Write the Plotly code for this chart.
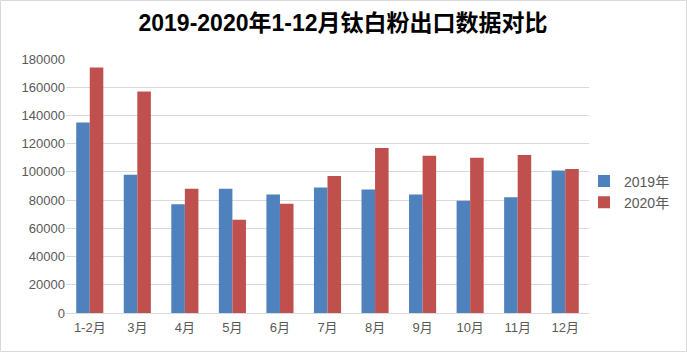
import plotly.graph_objects as go

months = ["1-2月", "3月", "4月", "5月", "6月", "7月", "8月", "9月", "10月", "11月", "12月"]
values_2019 = [135000, 98000, 77000, 88000, 84000, 89000, 87500, 84000, 79500, 82000, 101000]
values_2020 = [174000, 157000, 88000, 66000, 77500, 97000, 117000, 111500, 110000, 112000, 102000]
series_names = ["2019年", "2020年"]
y_ticks = list(range(0, 180001, 20000))

W, H = 687, 352
L, R, T, B = 66, 98, 59, 39
pw, ph = W - L - R, H - T - B

fig = go.Figure()
fig.add_bar(x=months, y=values_2019, name=series_names[0], marker_color="#4f81bd", marker_line_width=0)
fig.add_bar(x=months, y=values_2020, name=series_names[1], marker_color="#c0504d", marker_line_width=0)

fig.update_layout(
    width=W, height=H,
    margin=dict(l=L, r=R, t=T, b=B, autoexpand=False),
    paper_bgcolor="white", plot_bgcolor="white",
    barmode="group", bargap=0.43, bargroupgap=0,
    font=dict(family="Liberation Sans, Noto Sans CJK SC", color="#595959", size=13),
    title=dict(
        text="<b>2019-2020年1-12月钛白粉出口数据对比</b>",
        x=343 / W, xref="container", xanchor="center",
        y=1 - 23 / H, yref="container", yanchor="middle",
        font=dict(family="Liberation Sans, Noto Sans CJK SC", size=23, color="black"),
    ),
    xaxis=dict(
        showgrid=False, showline=True, linecolor="#d9d9d9", linewidth=1,
        ticks="outside", ticklen=2, tickcolor="rgba(0,0,0,0)",
        tickfont=dict(size=13, color="#595959"),
    ),
    yaxis=dict(
        range=[0, 180000], tickvals=y_ticks, ticktext=[str(v) for v in y_ticks],
        showgrid=True, gridcolor="#d9d9d9", gridwidth=1, zeroline=False,
        showline=False, ticks="", tickfont=dict(size=13, color="#595959"),
    ),
    legend=dict(
        x=(584 - L) / pw, y=(313 - 192) / ph, xanchor="left", yanchor="middle",
        font=dict(size=14, color="#595959"), bgcolor="rgba(0,0,0,0)",
        itemwidth=30, tracegroupgap=0,
    ),
    showlegend=True,
    shapes=[dict(
        type="rect", xref="paper", yref="paper",
        x0=(0.5 - L) / pw, x1=(W - 0.5 - L) / pw,
        y0=-(B - 0.5) / ph, y1=(ph + T - 0.5) / ph,
        line=dict(color="#d9d9d9", width=1), fillcolor="rgba(0,0,0,0)", layer="below",
    )],
)

fig.write_html("out.html")
